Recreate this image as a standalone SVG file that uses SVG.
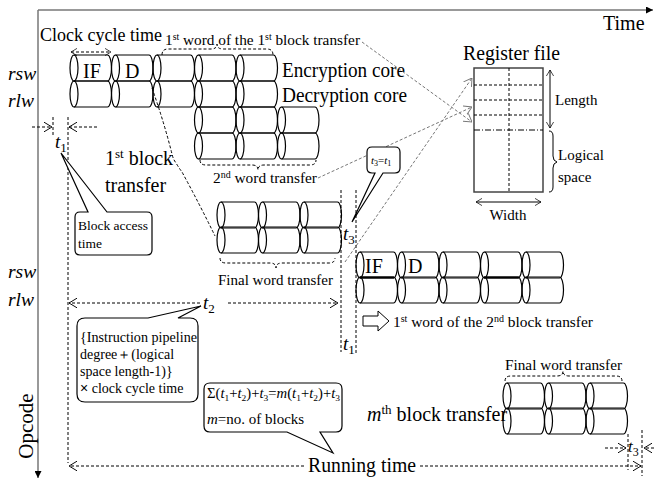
<svg xmlns="http://www.w3.org/2000/svg" width="654" height="479" viewBox="0 0 654 479">
<style>
text{font-family:"Liberation Serif","Times New Roman",serif;fill:#000}
.i{font-style:italic}
.cy{fill:none;stroke:#000;stroke-width:1.2}
.d{fill:none;stroke:#000;stroke-width:1;stroke-dasharray:3,2}
.g{fill:none;stroke:#777;stroke-width:1;stroke-dasharray:3,2}
.ax{fill:none;stroke:#777;stroke-width:1.5}
.co{fill:#fff;stroke:#000;stroke-width:1.2}
.s{fill:none;stroke:#000;stroke-width:1}
</style>
<defs>
<g id="cyl" class="cy"><path d="M4,0 H37.5 A4,13 0 0 1 37.5,26 H4"/><ellipse cx="4" cy="13" rx="4" ry="13"/></g>
<marker id="ch" viewBox="0 0 10 12" refX="10" refY="6" markerWidth="8" markerHeight="11" markerUnits="userSpaceOnUse" orient="auto-start-reverse"><path d="M0,0 L10,6 L0,12" fill="none" stroke="#000" stroke-width="1.2"/></marker>
<marker id="chs" viewBox="0 0 10 12" refX="10" refY="6" markerWidth="6" markerHeight="8" markerUnits="userSpaceOnUse" orient="auto-start-reverse"><path d="M0,0 L10,6 L0,12" fill="none" stroke="#000" stroke-width="1.2"/></marker>
<marker id="chg" viewBox="0 0 10 12" refX="10" refY="6" markerWidth="8" markerHeight="10" markerUnits="userSpaceOnUse" orient="auto"><path d="M0,0 L10,6 L0,12" fill="none" stroke="#777" stroke-width="1.2"/></marker>
<marker id="tri" viewBox="0 0 10 10" refX="10" refY="5" markerWidth="7" markerHeight="7" markerUnits="userSpaceOnUse" orient="auto"><path d="M0,0 L10,5 L0,10 Z" fill="#000"/></marker>
</defs>

<g id="axes">
<line class="ax" x1="38" y1="10" x2="653" y2="10" marker-end="url(#tri)"/>
<line class="ax" x1="38" y1="10" x2="38" y2="478" marker-end="url(#tri)"/>
<text x="603" y="30" font-size="20">Time</text>
<text transform="translate(33,426) rotate(-90)" text-anchor="middle" font-size="21">Opcode</text>
</g>

<g id="row-labels">
<text class="i" x="8" y="80" font-size="19.5">rsw</text>
<text class="i" x="8" y="107" font-size="19.5">rlw</text>
<text class="i" x="8" y="278" font-size="19.5">rsw</text>
<text class="i" x="8" y="306" font-size="19.5">rlw</text>
</g>

<g id="block1">
<use href="#cyl" x="70" y="55"/><use href="#cyl" x="111.5" y="55"/><use href="#cyl" x="153" y="55"/><use href="#cyl" x="194.5" y="55"/><use href="#cyl" x="236" y="55"/>
<use href="#cyl" x="70" y="81"/><use href="#cyl" x="111.5" y="81"/><use href="#cyl" x="153" y="81"/><use href="#cyl" x="194.5" y="81"/><use href="#cyl" x="236" y="81"/>
<use href="#cyl" x="194.5" y="107"/><use href="#cyl" x="236" y="107"/><use href="#cyl" x="277.5" y="107"/>
<use href="#cyl" x="194.5" y="133"/><use href="#cyl" x="236" y="133"/><use href="#cyl" x="277.5" y="133"/>
<text x="83" y="78" font-size="20">IF</text>
<text x="125" y="78" font-size="20">D</text>
<text x="282" y="77" font-size="20" textLength="123" lengthAdjust="spacingAndGlyphs">Encryption core</text>
<text x="282" y="102" font-size="20" textLength="125" lengthAdjust="spacingAndGlyphs">Decryption core</text>
</g>

<g id="final-word-1">
<use href="#cyl" x="217" y="202"/><use href="#cyl" x="258.5" y="202"/><use href="#cyl" x="300" y="202"/>
<use href="#cyl" x="217" y="227"/><use href="#cyl" x="258.5" y="227"/><use href="#cyl" x="300" y="227"/>
</g>

<g id="block2">
<use href="#cyl" x="356" y="252"/><use href="#cyl" x="397.5" y="252"/><use href="#cyl" x="439" y="252"/><use href="#cyl" x="480.5" y="252"/><use href="#cyl" x="522" y="252"/>
<use href="#cyl" x="356" y="277"/><use href="#cyl" x="397.5" y="277"/><use href="#cyl" x="439" y="277"/><use href="#cyl" x="480.5" y="277"/><use href="#cyl" x="522" y="277"/>
<line x1="360" y1="277.5" x2="394" y2="277.5" stroke="#000" stroke-width="2.2"/>
<line x1="484" y1="277.5" x2="519" y2="277.5" stroke="#000" stroke-width="2.2"/>
<text x="365" y="273" font-size="20">IF</text>
<text x="408" y="273" font-size="20">D</text>
</g>

<g id="blockm">
<use href="#cyl" x="503" y="383"/><use href="#cyl" x="544.5" y="383"/><use href="#cyl" x="586" y="383"/>
<use href="#cyl" x="503" y="408"/><use href="#cyl" x="544.5" y="408"/><use href="#cyl" x="586" y="408"/>
</g>

<g id="register-file">
<text x="463" y="60" font-size="21" textLength="97" lengthAdjust="spacingAndGlyphs">Register file</text>
<rect x="474" y="68" width="69" height="124" fill="none" stroke="#444" stroke-width="1.5"/>
<line class="d" x1="509" y1="68" x2="509" y2="192"/>
<line class="d" x1="474" y1="85" x2="543" y2="85"/>
<line class="d" x1="474" y1="100" x2="543" y2="100"/>
<line class="d" x1="474" y1="115" x2="543" y2="115"/>
<line x1="474" y1="130" x2="543" y2="130" fill="none" stroke="#000" stroke-width="1" stroke-dasharray="6,2,1,2"/>
<line class="s" x1="550" y1="70" x2="550" y2="128" marker-start="url(#chs)" marker-end="url(#chs)"/>
<text x="555" y="105" font-size="15">Length</text>
<path class="s" d="M549,131 Q553,131 553,136 V156 Q553,161 557,162 Q553,163 553,168 V187 Q553,192 549,192"/>
<text x="558" y="160" font-size="15">Logical</text>
<text x="558" y="182" font-size="15">space</text>
<line class="s" x1="476" y1="202" x2="541" y2="202" marker-start="url(#chs)" marker-end="url(#chs)"/>
<text x="508" y="220" font-size="15" text-anchor="middle">Width</text>
</g>

<g id="connectors">
<line class="d" x1="71" y1="52" x2="111" y2="52" marker-start="url(#chs)" marker-end="url(#chs)"/>
<path class="d" d="M162,55 Q162,49 168,49 H211 Q217,49 217,44 Q217,49 223,49 H267 Q273,49 273,55"/>
<path class="d" d="M200,160 Q200,165 206,165 H252 Q258,165 258,170 Q258,165 264,165 H310 Q316,165 316,160"/>
<path class="d" d="M220,258 Q220,263 226,263 H270 Q276,263 276,268 Q276,263 282,263 H329 Q335,263 335,258"/>
<path class="d" d="M505,381 Q505,376 511,376 H557 Q563,376 563,371 Q563,376 569,376 H616 Q622,376 622,381"/>
<path class="d" d="M152,88 Q164,122 172,154 Q173,159 176,163 Q179,168 182,172 Q200,205 215,236"/>
<line class="g" x1="362" y1="42" x2="472" y2="122" marker-end="url(#chg)"/>
<line class="g" x1="318" y1="178" x2="472" y2="107" marker-end="url(#chg)"/>
<line class="g" x1="345" y1="262" x2="472" y2="78" marker-end="url(#chg)"/>
<line class="d" x1="32" y1="127" x2="52" y2="127" marker-end="url(#ch)"/>
<line class="d" x1="97" y1="127" x2="69" y2="127" marker-end="url(#ch)"/>
<line class="d" x1="53" y1="117" x2="53" y2="137"/>
<line class="d" x1="68" y1="117" x2="68" y2="463"/>
<line class="d" x1="341" y1="190" x2="341" y2="352"/>
<line class="d" x1="356" y1="190" x2="356" y2="353"/>
<line class="d" x1="200" y1="303" x2="69" y2="303" marker-end="url(#ch)"/>
<line class="d" x1="228" y1="303" x2="338" y2="303" marker-end="url(#ch)"/>
<line class="d" x1="605" y1="448" x2="626" y2="448" marker-end="url(#ch)"/>
<line class="d" x1="654" y1="448" x2="644" y2="448" marker-end="url(#ch)"/>
<line class="d" x1="628" y1="434" x2="628" y2="470"/>
<line class="d" x1="642" y1="430" x2="642" y2="476"/>
<line class="d" x1="304" y1="466" x2="69" y2="466" marker-end="url(#ch)"/>
<line class="d" x1="420" y1="466" x2="641" y2="466" marker-end="url(#ch)"/>
<polygon class="s" points="363,316 378,316 378,311 389,321 378,331 378,326 363,326"/>
</g>

<g id="labels">
<text x="40" y="41" font-size="18">Clock cycle time</text>
<text x="165" y="45" font-size="15.5" textLength="195" lengthAdjust="spacingAndGlyphs">1<tspan font-size="10" dy="-5">st</tspan><tspan dy="5"> word of the 1</tspan><tspan font-size="10" dy="-5">st</tspan><tspan dy="5"> block transfer</tspan></text>
<text x="105" y="165" font-size="20">1<tspan font-size="13" dy="-7">st</tspan><tspan dy="7"> block</tspan></text>
<text x="105" y="192" font-size="20">transfer</text>
<text x="213" y="183" font-size="15.5" textLength="104" lengthAdjust="spacingAndGlyphs">2<tspan font-size="10" dy="-5">nd</tspan><tspan dy="5"> word transfer</tspan></text>
<text x="218" y="285" font-size="15" textLength="115" lengthAdjust="spacingAndGlyphs">Final word transfer</text>
<text x="505" y="370" font-size="15" textLength="117" lengthAdjust="spacingAndGlyphs">Final word transfer</text>
<text x="393" y="327" font-size="15.5" textLength="200" lengthAdjust="spacingAndGlyphs">1<tspan font-size="10" dy="-5">st</tspan><tspan dy="5"> word of the 2</tspan><tspan font-size="10" dy="-5">nd</tspan><tspan dy="5"> block transfer</tspan></text>
<text x="367" y="421" font-size="20"><tspan class="i">m</tspan><tspan font-size="13" dy="-7">th</tspan><tspan dy="7"> block transfer</tspan></text>
<text x="55" y="148" font-size="19"><tspan class="i">t</tspan><tspan font-size="13" dy="4">1</tspan></text>
<text x="343" y="240" font-size="19"><tspan class="i">t</tspan><tspan font-size="13" dy="4">3</tspan></text>
<text x="203" y="309" font-size="19"><tspan class="i">t</tspan><tspan font-size="13" dy="4">2</tspan></text>
<text x="343" y="350" font-size="19"><tspan class="i">t</tspan><tspan font-size="13" dy="4">1</tspan></text>
<text x="628" y="452" font-size="17"><tspan class="i">t</tspan><tspan font-size="12" dy="4">3</tspan></text>
<text x="308" y="472" font-size="20" textLength="108" lengthAdjust="spacingAndGlyphs">Running time</text>
</g>

<g id="callout-block-access">
<path class="co" d="M80,212 H88 L61,153 L107,212 H147 Q152,212 152,217 V250 Q152,255 147,255 H80 Q75,255 75,250 V217 Q75,212 80,212 Z"/>
<text x="78" y="230" font-size="13.5">Block access</text>
<text x="78" y="248" font-size="13.5">time</text>
</g>

<g id="callout-t3t1">
<path class="co" d="M372,147 H395 Q400,147 400,152 V168 Q400,173 395,173 H383 L352,222 L375,173 H372 Q367,173 367,168 V152 Q367,147 372,147 Z"/>
<text x="371" y="164" font-size="11"><tspan class="i">t</tspan><tspan font-size="8" dy="2">3</tspan><tspan dy="-2">=</tspan><tspan class="i">t</tspan><tspan font-size="8" dy="2">1</tspan></text>
</g>

<g id="callout-instruction">
<path class="co" d="M85,318 H148 L201,306 L178,318 H190 Q198,318 198,326 V394 Q198,402 190,402 H85 Q77,402 77,394 V326 Q77,318 85,318 Z"/>
<text x="80" y="342" font-size="14" textLength="117" lengthAdjust="spacingAndGlyphs">{Instruction pipeline</text>
<text x="80" y="359" font-size="14">degree＋(logical</text>
<text x="80" y="376" font-size="14">space  length-1)}</text>
<text x="80" y="393" font-size="14"><tspan font-family="Liberation Sans, sans-serif">×</tspan> clock cycle time</text>
</g>

<g id="callout-sum">
<path class="co" d="M210,383 H336 Q342,383 342,389 V426 Q342,432 336,432 H320 L333,453 L287,432 H210 Q204,432 204,426 V389 Q204,383 210,383 Z"/>
<text x="207" y="398" font-size="14" textLength="133" lengthAdjust="spacingAndGlyphs">Σ(<tspan class="i">t</tspan><tspan font-size="9" dy="3">1</tspan><tspan dy="-3">+</tspan><tspan class="i">t</tspan><tspan font-size="9" dy="3">2</tspan><tspan dy="-3">)+</tspan><tspan class="i">t</tspan><tspan font-size="9" dy="3">3</tspan><tspan dy="-3">=</tspan><tspan class="i">m</tspan>(<tspan class="i">t</tspan><tspan font-size="9" dy="3">1</tspan><tspan dy="-3">+</tspan><tspan class="i">t</tspan><tspan font-size="9" dy="3">2</tspan><tspan dy="-3">)+</tspan><tspan class="i">t</tspan><tspan font-size="9" dy="3">3</tspan></text>
<text x="207" y="424" font-size="15"><tspan class="i">m</tspan>=no. of blocks</text>
</g>
</svg>
